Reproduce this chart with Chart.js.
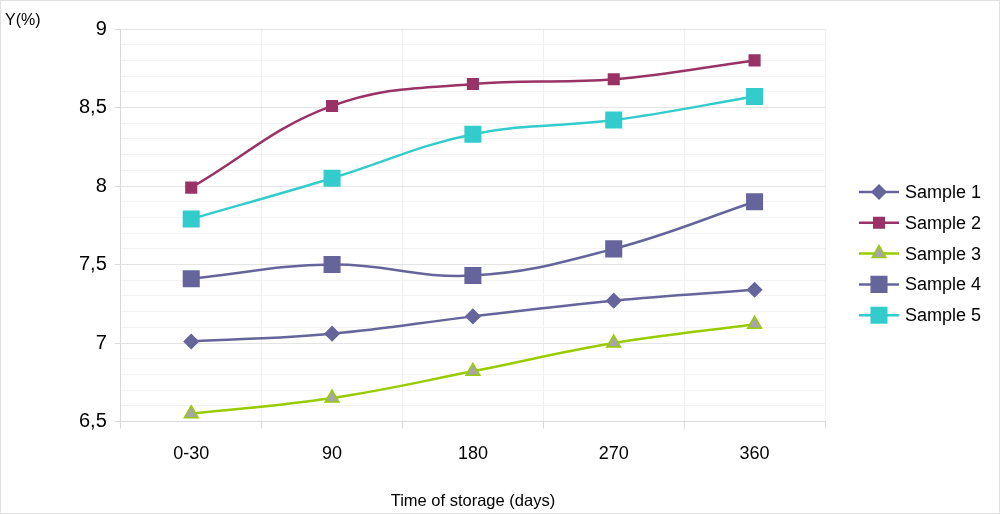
<!DOCTYPE html>
<html>
<head>
<meta charset="utf-8">
<title>Y(%) vs time of storage</title>
<script src="https://cdn.jsdelivr.net/npm/chart.js@4.4.1/dist/chart.umd.min.js"></script>
<style>
  html, body { margin: 0; padding: 0; background: #fff; }
  #wrap { position: relative; width: 1000px; height: 514px; }
</style>
</head>
<body>
<div id="wrap"><canvas id="chart"></canvas></div>
<script>
const categories = ["0-30", "90", "180", "270", "360"];
const seriesNames = ["Sample 1", "Sample 2", "Sample 3", "Sample 4", "Sample 5"];
const sample1 = [7.01, 7.06, 7.17, 7.27, 7.34];
const sample2 = [7.99, 8.51, 8.65, 8.68, 8.80];
const sample3 = [6.55, 6.65, 6.82, 7.00, 7.12];
const sample4 = [7.41, 7.50, 7.43, 7.60, 7.90];
const sample5 = [7.79, 8.05, 8.33, 8.42, 8.57];
const yMin = 6.5;
const yMax = 9;

const FONT = "'Liberation Sans', Arial, sans-serif";
const isMajor = v => Math.abs(v * 2 - Math.round(v * 2)) < 1e-6;

function makeSeries(label, data, color, style, radius, fill, border) {
  return {
    label: label,
    data: data,
    borderColor: color,
    backgroundColor: color,
    borderWidth: 2.5,
    tension: 0.4,
    pointStyle: style,
    pointRadius: radius,
    pointHoverRadius: radius,
    pointBackgroundColor: fill || color,
    pointBorderColor: border || color,
    pointBorderWidth: 1.5
  };
}

const datasets = [
  makeSeries(seriesNames[0], sample1, "#65659b", "rectRot", 7),
  makeSeries(seriesNames[1], sample2, "#993366", "rect", 7.5),
  makeSeries(seriesNames[2], sample3, "#99cc00", "triangle", 8, "#a6a6a6", "#99cc00"),
  makeSeries(seriesNames[3], sample4, "#65659b", "rect", 11),
  makeSeries(seriesNames[4], sample5, "#33cccc", "rect", 11)
];

// marker drawing for the side legend
function drawMarker(ctx, ds, x, y) {
  const r = ds.pointRadius;
  ctx.fillStyle = ds.pointBackgroundColor;
  ctx.strokeStyle = ds.pointBorderColor;
  ctx.lineWidth = ds.pointBorderWidth;
  ctx.beginPath();
  if (ds.pointStyle === "rectRot") {
    ctx.moveTo(x - r, y); ctx.lineTo(x, y - r); ctx.lineTo(x + r, y); ctx.lineTo(x, y + r);
    ctx.closePath();
  } else if (ds.pointStyle === "triangle") {
    ctx.moveTo(x - Math.sin(Math.PI / 3) * r, y + r * 0.5);
    ctx.lineTo(x, y - r);
    ctx.lineTo(x + Math.sin(Math.PI / 3) * r, y + r * 0.5);
    ctx.closePath();
  } else {
    const s = Math.SQRT1_2 * r;
    ctx.rect(x - s, y - s, 2 * s, 2 * s);
  }
  ctx.fill();
  ctx.stroke();
}

const extras = {
  id: "extras",
  afterDraw(chart) {
    const ctx = chart.ctx;
    const area = chart.chartArea;
    ctx.save();
    // y axis caption
    ctx.fillStyle = "#000";
    ctx.font = "16px " + FONT;
    ctx.textBaseline = "alphabetic";
    ctx.textAlign = "left";
    ctx.fillText("Y(%)", 5, 25);

    // legend
    const lx = area.right + 34;
    chart.data.datasets.forEach((ds, i) => {
      const y = 192 + i * 30.8;
      ctx.strokeStyle = ds.borderColor;
      ctx.lineWidth = ds.borderWidth;
      ctx.beginPath();
      ctx.moveTo(lx, y);
      ctx.lineTo(lx + 40, y);
      ctx.stroke();
      drawMarker(ctx, ds, lx + 20, y);
      ctx.fillStyle = "#000";
      ctx.font = "18px " + FONT;
      ctx.textBaseline = "middle";
      ctx.fillText(ds.label, lx + 46, y + 1);
    });

    // frame
    ctx.strokeStyle = "#e0e0e0";
    ctx.lineWidth = 1;
    ctx.strokeRect(0.5, 0.5, chart.width - 1, chart.height - 1);
    ctx.restore();
  }
};

new Chart(document.getElementById("chart").getContext("2d"), {
  type: "line",
  data: { labels: categories, datasets: datasets },
  plugins: [extras],
  options: {
    responsive: true,
    maintainAspectRatio: false,
    animation: false,
    layout: { padding: { left: 71, right: 175, top: 29, bottom: 0 } },
    plugins: {
      legend: { display: false },
      tooltip: { enabled: false }
    },
    scales: {
      x: {
        offset: true,
        grid: {
          offset: true,
          color: "#efefef",
          tickColor: "#d9d9d9",
          tickLength: 7
        },
        border: { color: "#d9d9d9" },
        ticks: {
          color: "#000",
          padding: 15,
          font: { family: FONT, size: 18 }
        },
        title: {
          display: true,
          text: "Time of storage (days)",
          color: "#000",
          font: { family: FONT, size: 16.5 },
          padding: { top: 11, bottom: 3 }
        }
      },
      y: {
        min: yMin,
        max: yMax,
        grid: {
          color: c => isMajor(c.tick.value) ? "#e4e4e4" : "#f3f3f3",
          tickColor: c => isMajor(c.tick.value) ? "#d9d9d9" : "rgba(0,0,0,0)",
          tickLength: 6
        },
        border: { color: "#d9d9d9" },
        ticks: {
          stepSize: 0.1,
          autoSkip: false,
          color: "#000",
          padding: 8,
          font: { family: FONT, size: 20 },
          callback: v => isMajor(v) ? String(Math.round(v * 10) / 10).replace(".", ",") : ""
        }
      }
    }
  }
});
</script>
</body>
</html>
